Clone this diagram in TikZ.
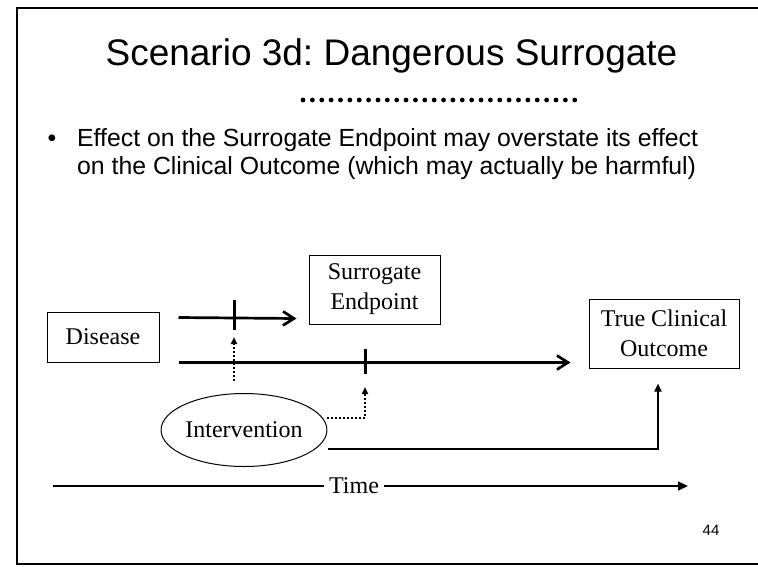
\documentclass[tikz,border=0pt]{standalone}
\usepackage{fontspec}
\setmainfont{Liberation Serif}
\newfontfamily\arialf{Liberation Sans}
\usetikzlibrary{arrows.meta,calc,shapes.geometric}
\frenchspacing
\begin{document}
\begin{tikzpicture}[x=1pt,y=-1pt,
  box/.style={draw,line width=1pt,inner sep=0pt,align=center,font=\fontsize{24}{30}\selectfont},
  bigarrow/.style={line width=2.7pt,-{Straight Barb[length=11pt,width=14pt,line width=2.7pt]}},
  tickmark/.style={line width=3pt},
  dotarrow/.style={line width=2pt,dash pattern=on 2pt off 2pt,-{Triangle[length=7pt,width=6pt]}},
  timeline/.style={line width=1.3pt},
  sanstext/.style={font=\arialf\fontsize{24.8}{28}\selectfont,inner sep=0pt}
]
\useasboundingbox (0,0) rectangle (758,566);
% frame
\draw[line width=2pt] (760,8) -- (17,8) -- (17,564) -- (760,564);
% title
\node[font=\arialf\fontsize{37}{44}\selectfont,anchor=base,inner sep=0pt] (title) at (391.5,65) {Scenario 3d: Dangerous Surrogate};
\draw[line width=4.8pt,line cap=round,dash pattern=on 0pt off 9.37pt] (303,100) -- (584,100);
% bullet
\node[sanstext,anchor=base] (bul) at (52,146) {•};
\node[sanstext,anchor=base west] (b1) at (77,146) {Effect on the Surrogate Endpoint may overstate its effect};
\node[sanstext,anchor=base west] (b2) at (77,174) {on the Clinical Outcome (which may actually be harmful)};
% nodes
\node[box,minimum width=112pt,minimum height=50pt] (disease) at (103,337) {Disease};
\node[box,minimum width=131pt,minimum height=69pt] (surr) at (374.5,289.5) {Surrogate\\Endpoint};
\node[box,minimum width=150pt,minimum height=69pt] (tco) at (664,333.5) {True Clinical\\Outcome};
\node[draw,ellipse,line width=1pt,minimum width=144pt,minimum height=73pt,inner sep=0pt,font=\fontsize{24}{30}\selectfont] (interv) at (244,430) {Intervention};
% connector points
\coordinate (a1s) at ($(disease.north east)+(19,6)$);
\coordinate (a1e) at ($(surr.south west)+(-12,-6)$);
\coordinate (a2s) at ($(disease.south east)+(19,0)$);
\coordinate (a2e) at ($(tco.south west)+(-18,-6)$);
\coordinate (t1a) at (234,300);
\coordinate (t1b) at (234,330);
\coordinate (t2a) at (365,349);
\coordinate (t2b) at (365,374);
\coordinate (d1s) at (234,381);
\coordinate (d1e) at (234,337);
\coordinate (d2s) at (327,418);
\coordinate (d2e) at (365,387);
\coordinate (hs) at (328,449);
\coordinate (he) at ($(tco.south)+(-6,15)$);
% arrows
\draw[bigarrow] (a1s) -- (a1e);
\draw[bigarrow] (a2s) -- (a2e);
\draw[tickmark] (t1a) -- (t1b);
\draw[tickmark] (t2a) -- (t2b);
\draw[dotarrow] (d1s) -- (d1e);
\draw[dotarrow] (d2s) -| (d2e);
\draw[line width=2.7pt,-{Triangle[length=8pt,width=7pt]}] (hs) -| (he);
% time axis
\node[font=\fontsize{24}{30}\selectfont,inner ysep=0pt,inner xsep=5pt] (time) at (354,486) {Time};
\coordinate (ts) at (53,486);
\coordinate (te) at (688,486);
\draw[timeline] (ts) -- (time.west);
\draw[timeline,-{Triangle[length=10pt,width=9pt]}] (time.east) -- (te);
% page number
\node[font=\arialf\fontsize{15}{18}\selectfont,inner sep=0pt] (pg) at (711,530) {44};
\end{tikzpicture}
\end{document}
